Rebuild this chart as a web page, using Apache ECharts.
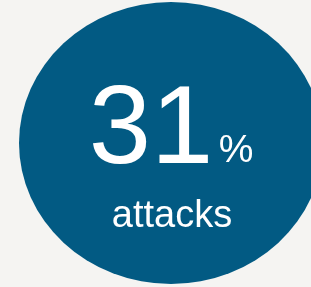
<!DOCTYPE html>
<html>
<head>
<meta charset="utf-8">
<style>
html,body{margin:0;padding:0;background:#f5f4f2;}
#main{width:311px;height:287px;}
</style>
<script src="https://cdn.jsdelivr.net/npm/echarts@6/dist/echarts.min.js"></script>
</head>
<body>
<div id="main"></div>
<script>
var categories = ['attacks'];
var values = [31];
var unitLabel = '%';

var chart = echarts.init(document.getElementById('main'), null, {renderer: 'canvas'});
var option = {
  backgroundColor: '#f5f4f2',
  animation: false,
  grid: {left: 20, width: 302, top: 0, height: 286, containLabel: false, outerBoundsMode: 'none'},
  xAxis: {type: 'category', data: categories, show: false},
  yAxis: {type: 'value', min: 0, max: 62, show: false},
  series: [{
    type: 'scatter',
    data: values,
    symbol: 'circle',
    symbolSize: [304, 282],
    itemStyle: {color: '#025a83', opacity: 1},
    silent: true,
    z: 1
  }],
  graphic: {
    elements: [
      {type: 'text', z: 100, x: 151, y: 132, style: {text: String(values[0]), fill: '#ffffff', font: '112px "Liberation Sans", Arial, sans-serif', textAlign: 'center', textVerticalAlign: 'middle'}},
      {type: 'text', z: 100, x: 236, y: 151, style: {text: unitLabel, fill: '#ffffff', font: '39px "Liberation Sans", Arial, sans-serif', textAlign: 'center', textVerticalAlign: 'middle'}},
      {type: 'text', z: 100, x: 172, y: 217, style: {text: categories[0], fill: '#ffffff', font: '38px "Liberation Sans", Arial, sans-serif', textAlign: 'center', textVerticalAlign: 'middle'}}
    ]
  }
};
chart.setOption(option);
</script>
</body>
</html>
